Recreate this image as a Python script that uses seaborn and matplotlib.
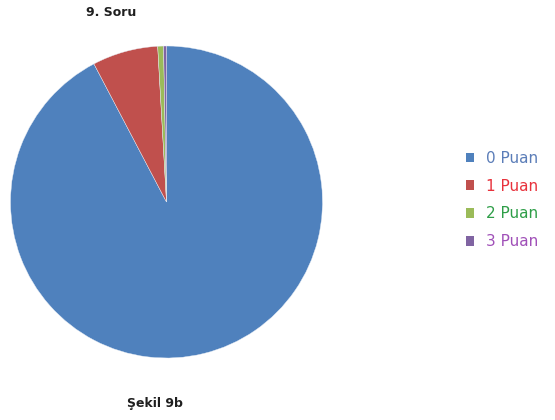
import matplotlib
matplotlib.use("Agg")
import matplotlib.pyplot as plt
import seaborn as sns
from matplotlib.patches import Patch

categories = ["0 Puan", "1 Puan", "2 Puan", "3 Puan"]
values = [92.3, 6.8, 0.6, 0.3]
title_text = "9. Soru"
caption_text = "Şekil 9b"

sns.set_theme(style="white")
plt.rcParams['font.family'] = ['DejaVu Sans']

colors = sns.color_palette(["#4F81BD", "#C0504D", "#9BBB59", "#8064A2"])
text_colors = ["#5B7DB8", "#E8323C", "#2E9E48", "#A050B8"]

cx, cy, r = 166.5, 202, 156
fig = plt.figure(figsize=(5.55, 4.2), dpi=100)
ax = fig.add_axes([(cx - r) / 555, (420 - cy - r) / 420, 2 * r / 555, 2 * r / 420])
ax.pie(values, colors=colors, startangle=90, counterclock=False,
       wedgeprops=dict(linewidth=0.3, edgecolor="#E8EEF6"))
ax.set_xlim(-1, 1)
ax.set_ylim(-1, 1)
ax.set_aspect("equal")

fig.text(111 / 555, 1 - 13 / 420, title_text, ha="center", va="center",
         fontsize=9, fontweight="bold", color="#1F1F1F")
fig.text(155 / 555, 1 - 403 / 420, caption_text, ha="center", va="center",
         fontsize=9, fontweight="bold", color="#1F1F1F")

handles = [Patch(facecolor=c, edgecolor="none") for c in colors]
leg = fig.legend(handles, categories, loc="center left",
                 bbox_to_anchor=(452 / 555, 1 - 200 / 420), frameon=False,
                 fontsize=11, handlelength=0.55, handleheight=0.55,
                 handletextpad=0.75, labelspacing=0.85, labelcolor=text_colors)

fig.savefig("out.png", dpi=100)
